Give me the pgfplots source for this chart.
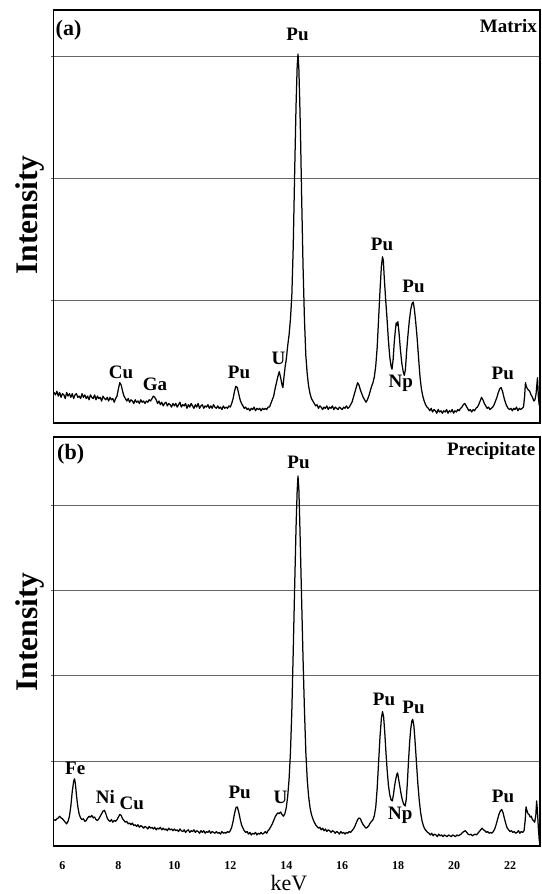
\documentclass[border=0pt]{standalone}
\usepackage{fontspec}
\setmainfont{Liberation Serif}
\usepackage{pgfplots}
\usepackage{pgfplotstable}
\pgfplotsset{compat=1.18}
\pgfplotstableread{
x y
5.70 0.25
5.75 0.23
5.80 0.26
5.85 0.22
5.90 0.25
5.95 0.21
6.00 0.24
6.05 0.23
6.10 0.20
6.15 0.25
6.20 0.22
6.25 0.24
6.30 0.21
6.35 0.24
6.40 0.20
6.45 0.23
6.50 0.24
6.55 0.21
6.60 0.22
6.65 0.20
6.70 0.24
6.75 0.21
6.80 0.23
6.85 0.20
6.90 0.22
6.95 0.19
7.00 0.23
7.05 0.21
7.10 0.20
7.15 0.23
7.20 0.19
7.25 0.22
7.30 0.20
7.35 0.21
7.40 0.18
7.45 0.22
7.50 0.20
7.55 0.19
7.60 0.21
7.65 0.18
7.70 0.21
7.75 0.19
7.80 0.20
7.85 0.17
7.90 0.20
7.95 0.22
8.00 0.28
8.05 0.33
8.10 0.31
8.15 0.26
8.20 0.22
8.25 0.20
8.30 0.18
8.35 0.20
8.40 0.17
8.45 0.19
8.50 0.18
8.55 0.16
8.60 0.19
8.65 0.17
8.70 0.18
8.75 0.16
8.80 0.19
8.85 0.17
8.90 0.18
8.95 0.16
9.00 0.18
9.05 0.17
9.10 0.19
9.15 0.18
9.20 0.20
9.25 0.22
9.30 0.21
9.35 0.19
9.40 0.16
9.45 0.18
9.50 0.15
9.55 0.17
9.60 0.14
9.65 0.16
9.70 0.17
9.75 0.14
9.80 0.16
9.85 0.15
9.90 0.13
9.95 0.16
10.00 0.14
10.05 0.16
10.10 0.13
10.15 0.15
10.20 0.17
10.25 0.13
10.30 0.15
10.35 0.14
10.40 0.16
10.45 0.12
10.50 0.15
10.55 0.13
10.60 0.16
10.65 0.14
10.70 0.12
10.75 0.15
10.80 0.13
10.85 0.16
10.90 0.12
10.95 0.14
11.00 0.15
11.05 0.12
11.10 0.14
11.15 0.13
11.20 0.15
11.25 0.12
11.30 0.14
11.35 0.12
11.40 0.15
11.45 0.13
11.50 0.12
11.55 0.14
11.60 0.12
11.65 0.13
11.70 0.11
11.75 0.14
11.80 0.12
11.85 0.13
11.90 0.12
11.95 0.14
12.00 0.13
12.05 0.16
12.10 0.20
12.15 0.26
12.20 0.30
12.25 0.29
12.30 0.24
12.35 0.19
12.40 0.16
12.45 0.14
12.50 0.12
12.55 0.13
12.60 0.11
12.65 0.12
12.70 0.10
12.75 0.12
12.80 0.11
12.85 0.13
12.90 0.10
12.95 0.12
13.00 0.11
13.05 0.12
13.10 0.10
13.15 0.12
13.20 0.11
13.25 0.12
13.30 0.11
13.35 0.13
13.40 0.13
13.45 0.16
13.50 0.19
13.55 0.22
13.60 0.28
13.65 0.33
13.70 0.38
13.75 0.42
13.80 0.37
13.85 0.31
13.88 0.29
13.92 0.38
13.96 0.46
14.00 0.52
14.05 0.63
14.10 0.72
14.15 0.85
14.20 1.05
14.25 1.45
14.30 2.05
14.35 2.60
14.39 2.92
14.42 3.02
14.45 2.90
14.48 2.65
14.51 2.35
14.55 1.85
14.60 1.28
14.65 0.85
14.70 0.55
14.75 0.40
14.80 0.30
14.85 0.24
14.90 0.20
14.95 0.18
15.00 0.16
15.05 0.14
15.10 0.15
15.15 0.12
15.20 0.14
15.25 0.13
15.30 0.11
15.35 0.13
15.40 0.12
15.45 0.14
15.50 0.11
15.55 0.13
15.60 0.12
15.65 0.14
15.70 0.11
15.75 0.13
15.80 0.12
15.85 0.11
15.90 0.13
15.95 0.12
16.00 0.11
16.05 0.13
16.10 0.12
16.15 0.14
16.20 0.12
16.25 0.13
16.30 0.15
16.35 0.17
16.40 0.21
16.45 0.25
16.50 0.29
16.55 0.33
16.60 0.31
16.65 0.27
16.70 0.24
16.75 0.21
16.80 0.19
16.85 0.17
16.90 0.19
16.95 0.22
17.00 0.26
17.05 0.30
17.10 0.33
17.15 0.38
17.20 0.47
17.25 0.62
17.30 0.85
17.35 1.08
17.40 1.28
17.44 1.36
17.47 1.33
17.50 1.20
17.55 1.02
17.60 0.86
17.65 0.68
17.70 0.54
17.75 0.46
17.78 0.44
17.82 0.52
17.86 0.66
17.90 0.76
17.93 0.82
17.96 0.80
17.99 0.83
18.03 0.74
18.08 0.60
18.13 0.49
18.18 0.42
18.22 0.39
18.26 0.44
18.30 0.58
18.35 0.72
18.40 0.84
18.45 0.93
18.50 0.98
18.54 0.99
18.58 0.93
18.63 0.82
18.68 0.69
18.73 0.53
18.78 0.38
18.83 0.28
18.88 0.22
18.93 0.18
18.98 0.15
19.03 0.13
19.08 0.12
19.13 0.10
19.18 0.12
19.23 0.09
19.28 0.11
19.33 0.10
19.38 0.08
19.43 0.11
19.48 0.09
19.53 0.10
19.58 0.08
19.63 0.10
19.68 0.09
19.73 0.11
19.78 0.08
19.83 0.10
19.88 0.09
19.93 0.11
19.98 0.08
20.03 0.10
20.08 0.09
20.13 0.11
20.18 0.10
20.23 0.12
20.28 0.13
20.33 0.15
20.38 0.16
20.43 0.14
20.48 0.12
20.53 0.10
20.58 0.11
20.63 0.09
20.68 0.11
20.73 0.10
20.78 0.12
20.83 0.13
20.88 0.15
20.93 0.18
20.98 0.21
21.03 0.19
21.08 0.16
21.13 0.14
21.18 0.12
21.23 0.13
21.28 0.11
21.33 0.12
21.38 0.13
21.43 0.15
21.48 0.18
21.53 0.21
21.58 0.25
21.63 0.28
21.68 0.29
21.73 0.26
21.78 0.21
21.83 0.17
21.88 0.14
21.93 0.12
21.98 0.11
22.03 0.12
22.08 0.10
22.13 0.12
22.18 0.11
22.23 0.13
22.28 0.10
22.33 0.12
22.38 0.11
22.43 0.12
22.48 0.13
22.52 0.22
22.55 0.33
22.58 0.30
22.62 0.28
22.66 0.27
22.70 0.26
22.75 0.23
22.80 0.21
22.85 0.18
22.89 0.19
22.93 0.24
22.96 0.32
22.98 0.37
23.01 0.22
23.04 0.15
23.07 0.13
}\specA
\pgfplotstableread{
x y
5.70 0.31
5.75 0.30
5.80 0.32
5.85 0.33
5.90 0.35
5.95 0.33
6.00 0.32
6.05 0.30
6.10 0.28
6.15 0.26
6.20 0.29
6.25 0.35
6.30 0.47
6.35 0.64
6.40 0.76
6.43 0.79
6.46 0.74
6.50 0.60
6.55 0.46
6.60 0.37
6.65 0.33
6.70 0.31
6.75 0.32
6.80 0.29
6.85 0.30
6.90 0.33
6.95 0.35
7.00 0.34
7.05 0.36
7.10 0.33
7.15 0.34
7.20 0.31
7.25 0.30
7.30 0.32
7.35 0.35
7.40 0.38
7.45 0.41
7.50 0.42
7.55 0.38
7.60 0.33
7.65 0.30
7.70 0.29
7.75 0.31
7.80 0.28
7.85 0.30
7.90 0.29
7.95 0.31
8.00 0.34
8.05 0.37
8.10 0.36
8.15 0.32
8.20 0.30
8.25 0.28
8.30 0.29
8.35 0.26
8.40 0.27
8.45 0.25
8.50 0.27
8.55 0.24
8.60 0.25
8.65 0.23
8.70 0.25
8.75 0.22
8.80 0.24
8.85 0.23
8.90 0.21
8.95 0.23
9.00 0.22
9.05 0.20
9.10 0.23
9.15 0.21
9.20 0.22
9.25 0.20
9.30 0.22
9.35 0.19
9.40 0.21
9.45 0.20
9.50 0.22
9.55 0.19
9.60 0.21
9.65 0.19
9.70 0.20
9.75 0.18
9.80 0.21
9.85 0.19
9.90 0.20
9.95 0.18
10.00 0.20
10.05 0.18
10.10 0.19
10.15 0.17
10.20 0.20
10.25 0.18
10.30 0.17
10.35 0.19
10.40 0.16
10.45 0.18
10.50 0.19
10.55 0.16
10.60 0.18
10.65 0.17
10.70 0.19
10.75 0.16
10.80 0.18
10.85 0.17
10.90 0.15
10.95 0.18
11.00 0.16
11.05 0.18
11.10 0.15
11.15 0.17
11.20 0.16
11.25 0.18
11.30 0.15
11.35 0.17
11.40 0.16
11.45 0.15
11.50 0.17
11.55 0.15
11.60 0.16
11.65 0.14
11.70 0.17
11.75 0.15
11.80 0.16
11.85 0.15
11.90 0.17
11.95 0.16
12.00 0.18
12.05 0.22
12.10 0.29
12.15 0.38
12.20 0.45
12.25 0.46
12.30 0.40
12.35 0.32
12.40 0.25
12.45 0.21
12.50 0.18
12.55 0.16
12.60 0.17
12.65 0.14
12.70 0.16
12.75 0.13
12.80 0.15
12.85 0.14
12.90 0.16
12.95 0.13
13.00 0.15
13.05 0.14
13.10 0.16
13.15 0.14
13.20 0.15
13.25 0.17
13.30 0.15
13.35 0.18
13.40 0.20
13.45 0.23
13.50 0.26
13.55 0.30
13.60 0.34
13.65 0.37
13.70 0.39
13.75 0.38
13.80 0.40
13.85 0.37
13.90 0.35
13.95 0.38
14.00 0.45
14.05 0.58
14.10 0.78
14.15 1.10
14.20 1.60
14.25 2.30
14.30 3.05
14.35 3.75
14.39 4.18
14.42 4.35
14.45 4.20
14.48 3.85
14.52 3.30
14.56 2.75
14.60 2.20
14.65 1.60
14.70 1.10
14.75 0.78
14.80 0.58
14.85 0.45
14.90 0.37
14.95 0.32
15.00 0.28
15.05 0.25
15.10 0.23
15.15 0.21
15.20 0.22
15.25 0.19
15.30 0.21
15.35 0.18
15.40 0.20
15.45 0.17
15.50 0.19
15.55 0.18
15.60 0.16
15.65 0.18
15.70 0.17
15.75 0.15
15.80 0.17
15.85 0.16
15.90 0.14
15.95 0.17
16.00 0.15
16.05 0.16
16.10 0.14
16.15 0.16
16.20 0.15
16.25 0.17
16.30 0.16
16.35 0.18
16.40 0.20
16.45 0.23
16.50 0.27
16.55 0.31
16.60 0.33
16.65 0.32
16.70 0.28
16.75 0.25
16.80 0.23
16.85 0.21
16.90 0.22
16.95 0.24
17.00 0.27
17.05 0.29
17.10 0.31
17.15 0.36
17.20 0.46
17.25 0.68
17.30 0.98
17.35 1.28
17.40 1.50
17.44 1.58
17.48 1.52
17.52 1.34
17.56 1.12
17.60 0.92
17.65 0.72
17.70 0.60
17.75 0.54
17.79 0.53
17.83 0.60
17.87 0.70
17.91 0.78
17.95 0.84
17.98 0.86
18.01 0.80
18.05 0.72
18.10 0.62
18.15 0.54
18.20 0.49
18.25 0.47
18.29 0.55
18.33 0.75
18.37 1.00
18.41 1.22
18.45 1.38
18.49 1.47
18.52 1.49
18.56 1.42
18.60 1.25
18.65 1.00
18.70 0.75
18.75 0.55
18.80 0.40
18.85 0.30
18.90 0.24
18.95 0.20
19.00 0.18
19.05 0.16
19.10 0.15
19.15 0.13
19.20 0.15
19.25 0.12
19.30 0.14
19.35 0.13
19.40 0.11
19.45 0.14
19.50 0.12
19.55 0.13
19.60 0.11
19.65 0.13
19.70 0.12
19.75 0.11
19.80 0.13
19.85 0.12
19.90 0.11
19.95 0.13
20.00 0.12
20.05 0.11
20.10 0.13
20.15 0.12
20.20 0.13
20.25 0.14
20.30 0.16
20.35 0.17
20.40 0.18
20.45 0.16
20.50 0.14
20.55 0.13
20.60 0.14
20.65 0.12
20.70 0.13
20.75 0.14
20.80 0.13
20.85 0.15
20.90 0.17
20.95 0.19
21.00 0.21
21.05 0.19
21.10 0.18
21.15 0.16
21.20 0.17
21.25 0.15
21.30 0.16
21.35 0.15
21.40 0.17
21.45 0.20
21.50 0.25
21.55 0.31
21.60 0.37
21.65 0.41
21.70 0.43
21.75 0.39
21.80 0.32
21.85 0.26
21.90 0.21
21.95 0.19
22.00 0.17
22.05 0.18
22.10 0.16
22.15 0.17
22.20 0.15
22.25 0.16
22.30 0.18
22.35 0.15
22.40 0.17
22.45 0.16
22.50 0.18
22.54 0.30
22.57 0.46
22.60 0.42
22.64 0.38
22.68 0.37
22.72 0.34
22.76 0.35
22.80 0.31
22.84 0.30
22.88 0.28
22.92 0.36
22.95 0.53
22.98 0.40
23.01 0.22
23.04 0.08
23.07 0.00
}\specB
\newcommand\lab{\fontsize{19bp}{20bp}\selectfont\bfseries}
\begin{document}
\begin{tikzpicture}[x=1bp,y=1bp]
\path[use as bounding box] (0bp,0bp) rectangle (542bp,894bp);
\pgfplotsset{
  spec/.style={
    scale only axis, width=486.5bp,
    anchor=south west,
    xmin=5.68, xmax=23.07, ymin=0,
    axis line style={line width=1.1bp},
    ymajorgrids, grid style={black!60, line width=0.9bp},
    yticklabels={}, ytick pos=left, tick align=outside,
    ytick style={black!60, line width=0.9bp},
    major tick length=2.5bp,
  }
}
\begin{axis}[spec, at={(53.5bp,471bp)}, height=413bp, ymax=3.38, ytick={1,2,3},
  xtick=\empty]
\addplot[black, line width=1.25bp, line join=round] table[x=x,y=y] {\specA};
\end{axis}
\begin{axis}[spec, at={(53.5bp,48bp)}, height=409bp, ymax=4.81, ytick={1,2,3,4},
  xtick={6,8,...,22}, xtick style={draw=none},
  /pgf/number format/assume math mode=true,
  xticklabel style={anchor=center, yshift=-17bp, font=\fontsize{12bp}{12bp}\selectfont\bfseries}]
\addplot[black, line width=1.25bp, line join=round] table[x=x,y=y] {\specB};
\end{axis}
% axis titles
\node[rotate=90, font=\fontsize{31.5bp}{34bp}\selectfont\bfseries] at (29.5bp,679bp) {Intensity};
\node[rotate=90, font=\fontsize{31.5bp}{34bp}\selectfont\bfseries] at (29.5bp,262bp) {Intensity};
\node[font=\fontsize{22bp}{24bp}\selectfont] at (289bp,10.5bp) {keV};
\begin{scope}[every node/.style={inner sep=0pt, font=\lab, anchor=base}]
% panel a labels
\node[anchor=base west, font=\fontsize{22bp}{22bp}\selectfont\bfseries] at (55.5bp,858bp) {(a)};
\node[anchor=base east] at (537bp,861.7bp) {Matrix};
\node at (297.5bp,853bp) {Pu};
\node at (382bp,643bp) {Pu};
\node at (413.5bp,601.3bp) {Pu};
\node at (400.7bp,506.3bp) {Np};
\node at (278.5bp,529bp) {U};
\node at (239bp,515.7bp) {Pu};
\node at (121bp,515.7bp) {Cu};
\node at (155bp,503.3bp) {Ga};
\node at (502.8bp,514bp) {Pu};
% panel b labels
\node[anchor=base west, font=\fontsize{22bp}{22bp}\selectfont\bfseries] at (57bp,434bp) {(b)};
\node[anchor=base east] at (535.5bp,438bp) {Precipitate};
\node at (298.5bp,425.5bp) {Pu};
\node at (384bp,188bp) {Pu};
\node at (413.5bp,180bp) {Pu};
\node at (400.3bp,74bp) {Np};
\node at (280.4bp,90.7bp) {U};
\node at (239.6bp,95bp) {Pu};
\node at (75.2bp,119.5bp) {Fe};
\node at (105.3bp,90.3bp) {Ni};
\node at (131.7bp,84.3bp) {Cu};
\node at (503bp,91bp) {Pu};
\end{scope}
\end{tikzpicture}
\end{document}
